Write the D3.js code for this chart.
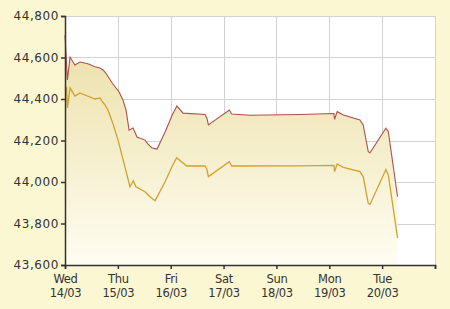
<!DOCTYPE html>
<html>
<head>
<meta charset="utf-8">
<script src="https://cdn.jsdelivr.net/npm/d3@7"></script>
<style>
  body { margin: 0; background: #fbf7d2; }
  svg { display: block; }
  .tick text { fill: #333; font-family: "DejaVu Sans", sans-serif; }
</style>
</head>
<body>
<svg></svg>
<script>
// hours since Wed 14/03 00:00
var upperHours = [0, 1.1, 2.3, 4.5, 6.8, 10.4, 13.6, 15.9, 17.3, 18.6, 21.5, 24.5, 26.3, 27.7, 29.1, 30.9, 32.7, 36.3, 37.7, 39.5, 41.8, 45.4, 48.6, 50.8, 53.6, 63.6, 64.5, 65.1, 74.6, 75.7, 84.0, 106.7, 122.1, 122.4, 123.6, 126.4, 133.9, 135.4, 137.7, 138.5, 145.7, 146.8, 151.0];
var upperValues = [44708, 44492, 44602, 44564, 44578, 44570, 44555, 44549, 44540, 44524, 44476, 44435, 44395, 44347, 44250, 44260, 44217, 44202, 44183, 44164, 44159, 44240, 44320, 44366, 44332, 44325, 44305, 44275, 44347, 44328, 44322, 44325, 44330, 44302, 44339, 44323, 44299, 44275, 44146, 44141, 44259, 44242, 43929];

var lowerHours = [0.7, 1.1, 2.3, 4.5, 6.8, 13.6, 15.9, 16.8, 18.2, 19.5, 21.8, 24.1, 26.8, 29.5, 31.0, 32.2, 36.3, 38.6, 40.9, 45.4, 48.6, 50.7, 55.3, 63.6, 64.4, 65.1, 74.6, 75.7, 106.7, 122.1, 122.4, 123.6, 126.4, 133.9, 135.4, 137.7, 138.5, 145.7, 146.8, 151.0];
var lowerValues = [44458, 44357, 44453, 44414, 44429, 44400, 44405, 44390, 44370, 44347, 44280, 44202, 44090, 43977, 44006, 43977, 43953, 43929, 43910, 44000, 44075, 44117, 44077, 44078, 44062, 44026, 44098, 44077, 44078, 44080, 44050, 44087, 44071, 44050, 44026, 43897, 43892, 44060, 44034, 43730];

var dayNames = ["Wed", "Thu", "Fri", "Sat", "Sun", "Mon", "Tue"];
var dayDates = ["14/03", "15/03", "16/03", "17/03", "18/03", "19/03", "20/03"];
var yTicks = [43600, 43800, 44000, 44200, 44400, 44600, 44800];

var margin = {top: 16, right: 15, bottom: 44, left: 65},
    width = 450 - margin.left - margin.right,
    height = 309 - margin.top - margin.bottom;

var upper = upperHours.map((h, i) => ({h: h, v: upperValues[i]}));
var lower = lowerHours.map((h, i) => ({h: h, v: lowerValues[i]}));

var svg = d3.select("svg")
    .attr("width", 450)
    .attr("height", 309);

var defs = svg.append("defs");
var grad = defs.append("linearGradient")
    .attr("id", "fillGrad")
    .attr("x1", 0).attr("y1", 0).attr("x2", 0).attr("y2", 1);
grad.append("stop").attr("offset", "0%").attr("stop-color", "#ebdfa6");
grad.append("stop").attr("offset", "100%").attr("stop-color", "#fffdf2");

var g = svg.append("g")
    .attr("transform", "translate(" + margin.left + "," + margin.top + ")");

var x = d3.scaleLinear()
    .domain([0, 168])
    .range([0, width]);
var y = d3.scaleLinear()
    .domain([43600, 44800])
    .range([height, 0]);

g.append("rect")
    .attr("width", width)
    .attr("height", height)
    .attr("fill", "#fff");

// grid
g.append("g").selectAll("line")
    .data(yTicks)
    .enter().append("line")
    .attr("x1", 0).attr("x2", width)
    .attr("y1", d => Math.round(y(d)) + 0.5)
    .attr("y2", d => Math.round(y(d)) + 0.5)
    .attr("stroke", "#d2d2d2");
g.append("g").selectAll("line")
    .data(d3.range(1, 8))
    .enter().append("line")
    .attr("y1", 0).attr("y2", height)
    .attr("x1", d => Math.round(x(d * 24)) + 0.5)
    .attr("x2", d => Math.round(x(d * 24)) + 0.5)
    .attr("stroke", "#d2d2d2");

var area = d3.area()
    .x(d => x(d.h))
    .y0(height)
    .y1(d => y(d.v));

g.append("path")
    .datum(upper)
    .attr("d", area)
    .attr("fill", "url(#fillGrad)");

var line = d3.line()
    .x(d => x(d.h))
    .y(d => y(d.v));

g.append("path")
    .datum(lower)
    .attr("d", line)
    .attr("fill", "none")
    .attr("stroke", "#d2a02c")
    .attr("stroke-width", 1.3);

g.append("path")
    .datum(upper)
    .attr("d", line)
    .attr("fill", "none")
    .attr("stroke", "#b0504a")
    .attr("stroke-width", 1.1);

// axes
var yAxis = g.append("g")
    .attr("class", "y axis")
    .call(d3.axisLeft(y).tickValues(yTicks).tickSize(4).tickPadding(2).tickFormat(d3.format(",")));
yAxis.selectAll("text")
    .style("font-size", "12px")
    .style("letter-spacing", "0.6px");

var xAxis = g.append("g")
    .attr("class", "x axis")
    .attr("transform", "translate(0," + height + ")")
    .call(d3.axisBottom(x).tickValues(d3.range(0, 8).map(d => d * 24)).tickSize(4).tickFormat(""));

xAxis.selectAll(".tick").each(function(d, i) {
  if (i >= dayNames.length) return;
  var t = d3.select(this).append("text")
      .attr("text-anchor", "middle")
      .style("font-size", "11.5px")
      .style("letter-spacing", "-0.3px");
  t.append("tspan").attr("x", 0).attr("y", 18).text(dayNames[i]);
  t.append("tspan").attr("x", 0).attr("y", 32).text(dayDates[i]);
});

g.selectAll(".axis path, .axis line")
    .attr("stroke", "#333")
    .attr("stroke-width", 1.5);
</script>
</body>
</html>
